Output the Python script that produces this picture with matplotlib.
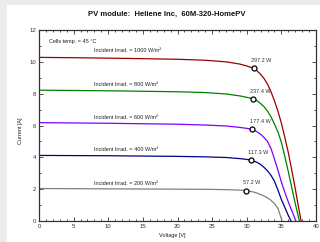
import matplotlib
matplotlib.use("Agg")
import matplotlib.pyplot as plt
from matplotlib.patches import Rectangle
from matplotlib.ticker import MultipleLocator

plt.rcParams['font.family'] = ['Liberation Sans', 'DejaVu Sans']

# ---------------- Data ---------------- #
irradiances = [1000, 800, 600, 400, 200]
colors = ['#9b0000', '#008000', '#8000ff', '#00008b', '#808080']

v_1000 = [0, 5, 10, 15, 20, 24, 27, 29, 30, 31, 31.5, 32, 32.5, 33, 33.5, 34, 34.5, 35, 35.5, 36, 36.5, 37, 37.4, 37.85]
i_1000 = [10.28, 10.26, 10.23, 10.2, 10.16, 10.1, 10.0, 9.86, 9.74, 9.59, 9.43, 9.22, 8.95, 8.6, 8.12, 7.55, 6.9, 6.15, 5.25, 4.3, 3.2, 2.05, 1.05, 0]

v_800 = [0, 5, 10, 15, 20, 24, 27, 29, 30, 30.9, 31.5, 32, 32.5, 33, 33.5, 34, 34.5, 35, 35.5, 36, 36.5, 37, 37.6]
i_800 = [8.22, 8.2, 8.18, 8.15, 8.12, 8.07, 7.98, 7.86, 7.77, 7.68, 7.55, 7.38, 7.18, 6.9, 6.55, 6.1, 5.6, 4.95, 4.05, 3.1, 2.1, 1.1, 0]

v_600 = [0, 5, 10, 15, 20, 24, 27, 29, 30, 30.8, 31.5, 32, 32.5, 33, 33.5, 34, 34.5, 35, 35.5, 36, 36.5, 37.1]
i_600 = [6.18, 6.16, 6.14, 6.11, 6.08, 6.03, 5.97, 5.88, 5.82, 5.76, 5.6, 5.45, 5.25, 5.0, 4.55, 3.9, 3.2, 2.45, 1.8, 1.2, 0.65, 0]

v_400 = [0, 5, 10, 15, 20, 24, 27, 29, 30, 30.6, 31.5, 32, 32.5, 33, 33.5, 34, 34.5, 35, 35.5, 36, 36.4]
i_400 = [4.12, 4.11, 4.10, 4.08, 4.06, 4.03, 3.99, 3.92, 3.87, 3.83, 3.68, 3.55, 3.37, 3.15, 2.87, 2.5, 1.95, 1.35, 0.85, 0.35, 0]

v_200 = [0, 5, 10, 15, 20, 24, 27, 29, 29.9, 31, 31.5, 32, 32.5, 33, 33.5, 34, 34.5, 35.1]
i_200 = [2.04, 2.03, 2.02, 2.01, 2.0, 1.99, 1.97, 1.94, 1.91, 1.82, 1.75, 1.66, 1.57, 1.45, 1.3, 1.1, 0.8, 0]

voltages = [v_1000, v_800, v_600, v_400, v_200]
currents = [i_1000, i_800, i_600, i_400, i_200]

# maximum power points
v_mpp = [31.0, 30.9, 30.8, 30.6, 29.9]
i_mpp = [9.59, 7.68, 5.76, 3.83, 1.91]
p_mpp = [297.2, 237.4, 177.4, 117.3, 57.2]

# label heights for irradiance captions
label_y = [10.7, 8.55, 6.52, 4.47, 2.37]

# ---------------- Figure ---------------- #
fig = plt.figure(figsize=(3.2, 2.42), dpi=100, facecolor='#ececec')
fig.patches.append(Rectangle((7 / 320, 0), 1, 1 - 5 / 242, transform=fig.transFigure,
                             facecolor='white', edgecolor='none', zorder=-10))

ax = fig.add_axes([39 / 320, 21 / 242, 277 / 320, 191 / 242])

for v, i, c in zip(voltages, currents, colors):
    ax.plot(v, i, color=c, lw=0.9, zorder=2)

ax.plot(v_mpp, i_mpp, 'o', ms=3.6, mfc='white', mec='black', mew=0.9, zorder=3)
for v, i, p in zip(v_mpp, i_mpp, p_mpp):
    ax.annotate(f'{p:.1f} W', (v, i), xytext=(-2, 5.5), textcoords='offset points',
                fontsize=4, color='#333333', ha='left', va='center')

for g, y in zip(irradiances, label_y):
    ax.text(7.9, y, f'Incident Irrad. = {g} W/m²', fontsize=4, color='#222222',
            ha='left', va='center')

ax.text(1.45, 11.25, 'Cells temp. = 45 °C', fontsize=4, color='#222222', ha='left', va='center')

ax.set_xlim(0, 40)
ax.set_ylim(0, 12)
ax.xaxis.set_major_locator(MultipleLocator(5))
ax.xaxis.set_minor_locator(MultipleLocator(1))
ax.yaxis.set_major_locator(MultipleLocator(2))
ax.yaxis.set_minor_locator(MultipleLocator(1))
ax.tick_params(which='both', direction='in', top=True, right=True, labelsize=4.3,
               width=0.6, pad=2, colors='#333333')
ax.tick_params(which='major', length=3)
ax.tick_params(which='minor', length=1.6)
for s in ax.spines.values():
    s.set_linewidth(0.9)
    s.set_color('#333333')

fig.text(20.5 / 320, 1 - 131 / 242, 'Current [A]', rotation=90, fontsize=4,
         ha='center', va='center', color='#222222')
fig.text(172 / 320, 1 - 236 / 242, 'Voltage [V]', fontsize=4,
         ha='center', va='center', color='#222222')
fig.text(167 / 320, 1 - 14 / 242, 'PV module:  Heliene Inc,  60M-320-HomePV', fontsize=5.5,
         fontweight='bold', ha='center', va='center', color='#111111')

fig.savefig('out.png', dpi=100, facecolor=fig.get_facecolor())
